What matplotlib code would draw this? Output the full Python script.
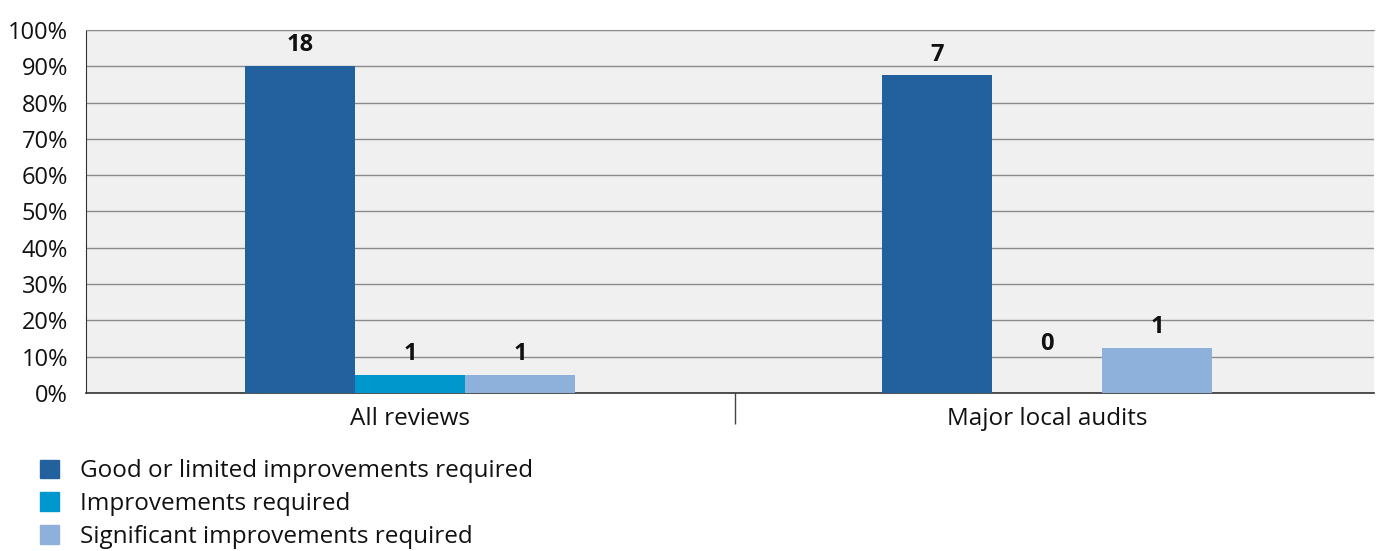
import numpy as np
import matplotlib.pyplot as plt
from matplotlib.patches import Patch

plt.rcParams['font.family'] = ['Open Sans', 'DejaVu Sans']

categories = ['All reviews', 'Major local audits']
series = ['Good or limited improvements required', 'Improvements required',
          'Significant improvements required']
counts = [[18, 7], [1, 0], [1, 1]]
totals = [20, 8]
colors = ['#22619e', '#0097cd', '#8eb1dc']

fig = plt.figure(figsize=(13.79, 5.51), dpi=100)
ax = fig.add_axes([0.0624, 0.2868, 0.934, 0.6588])
ax.set_facecolor('#f0f0f0')

x = np.arange(len(categories))
w = 0.1727
for i, name in enumerate(series):
    vals = [c / t * 100 for c, t in zip(counts[i], totals)]
    bars = ax.bar(x + (i - 1) * w, vals, w, color=colors[i], label=name, zorder=3)
    for b, c in zip(bars, counts[i]):
        off = 35 if c == 0 else 15
        ax.annotate(str(c), (b.get_x() + b.get_width() / 2, b.get_height()),
                    xytext=(0, off), textcoords='offset points', ha='center',
                    va='center', fontsize=17, fontweight='bold', color='#111111')

ax.set_xlim(-0.509, 1.513)
ax.set_ylim(0, 100)
ax.set_yticks(range(0, 101, 10))
ax.set_yticklabels([f'{v}%' for v in range(0, 101, 10)], fontsize=17, color='#111111')
ax.tick_params(axis='y', length=0, pad=13)
ax.set_xticks(x)
ax.set_xticklabels(categories, fontsize=17.5, color='#111111')
ax.tick_params(axis='x', length=0, pad=10)
ax.set_xticks([0.51], minor=True)
ax.tick_params(axis='x', which='minor', length=22, width=1, color='#444444')
ax.grid(axis='y', color='#8a8a8a', linewidth=1, zorder=1)
ax.spines['right'].set_visible(False)
ax.spines['top'].set_color('#8a8a8a')
ax.spines['left'].set_color('#333333')
ax.spines['bottom'].set_color('#333333')
ax.spines['bottom'].set_linewidth(1.2)

handles = [Patch(color=c) for c in colors]
fig.legend(handles, series, loc='lower left', bbox_to_anchor=(0.013, -0.036),
           frameon=False, fontsize=17.5, handlelength=0.8, handleheight=0.8,
           handletextpad=0.85, labelspacing=0.36, labelcolor='#111111')

fig.savefig('out.png', dpi=100)
